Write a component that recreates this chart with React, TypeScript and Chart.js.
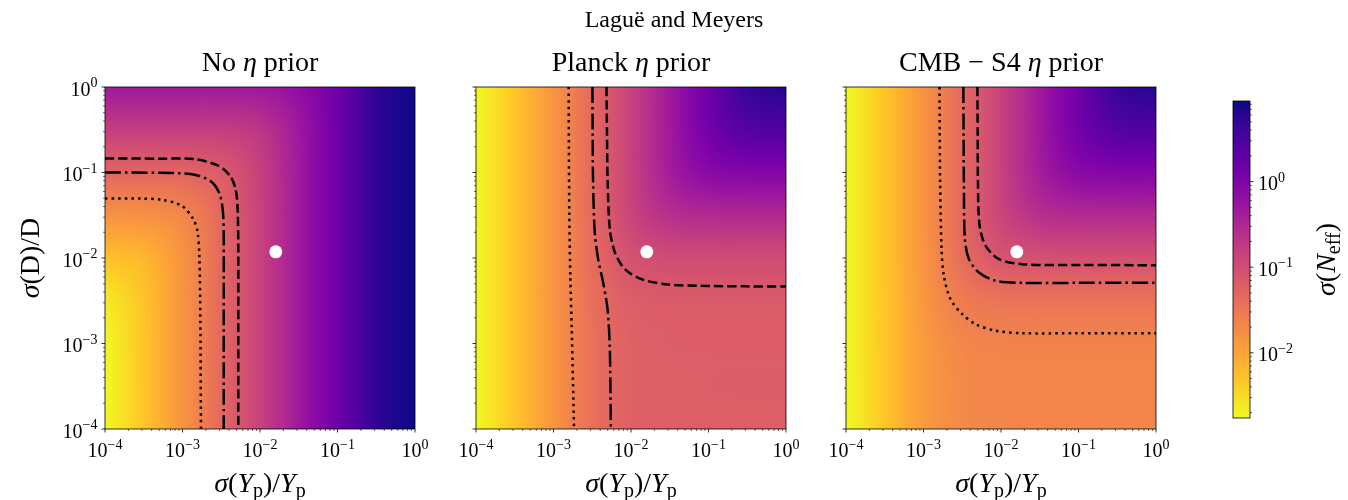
import React, { useEffect, useRef } from "react";
import { Chart, registerables } from "chart.js";

Chart.register(...registerables);

// ---------------- data ----------------
// grid nodes (half decades) of sigma(N_eff) maps; rows follow GRID_Y, columns follow GRID_X
const GRID_X = [1e-4, 3.162e-4, 1e-3, 3.162e-3, 1e-2, 3.162e-2, 1e-1, 3.162e-1, 1];
const GRID_Y = [1e-4, 3.162e-4, 1e-3, 3.162e-3, 1e-2, 3.162e-2, 1e-1, 3.162e-1, 1];

const SIGMA_NO_PRIOR = [
  [1.73e-3, 4.9e-3, 0.0148, 0.046, 0.145, 0.46, 1.45, 5.0, 8.74],
  [1.74e-3, 4.9e-3, 0.0148, 0.046, 0.145, 0.46, 1.45, 5.0, 8.74],
  [1.8e-3, 4.93e-3, 0.0148, 0.046, 0.145, 0.46, 1.45, 5.0, 8.74],
  [2.34e-3, 5.15e-3, 0.0149, 0.046, 0.145, 0.46, 1.45, 5.0, 8.74],
  [5.29e-3, 7.0e-3, 0.0156, 0.0463, 0.145, 0.46, 1.45, 5.0, 8.74],
  [0.0159, 0.0165, 0.0216, 0.0486, 0.146, 0.4603, 1.45, 5.0, 8.74],
  [0.05, 0.0502, 0.0521, 0.0679, 0.153, 0.4627, 1.451, 5.0, 8.74],
  [0.158, 0.158, 0.1587, 0.1646, 0.2145, 0.4864, 1.459, 5.002, 8.74],
  [0.47, 0.47, 0.47, 0.4723, 0.4919, 0.6577, 1.524, 5.022, 8.75],
];

const SIGMA_PLANCK = [
  [1.73e-3, 4.89e-3, 0.0144, 0.0372, 0.0578, 0.0624, 0.0629, 0.063, 0.063],
  [1.73e-3, 4.89e-3, 0.0144, 0.0372, 0.0578, 0.0624, 0.063, 0.0631, 0.0631],
  [1.73e-3, 4.89e-3, 0.0144, 0.0373, 0.0582, 0.0629, 0.0635, 0.0636, 0.0636],
  [1.73e-3, 4.89e-3, 0.0145, 0.0383, 0.0624, 0.0683, 0.069, 0.0691, 0.0691],
  [1.73e-3, 4.9e-3, 0.0147, 0.0424, 0.0876, 0.1068, 0.1096, 0.1099, 0.1099],
  [1.73e-3, 4.9e-3, 0.0148, 0.0454, 0.1298, 0.2462, 0.2855, 0.2909, 0.2913],
  [1.73e-3, 4.9e-3, 0.0148, 0.0459, 0.1432, 0.4098, 0.766, 0.888, 0.897],
  [1.73e-3, 4.9e-3, 0.0148, 0.046, 0.1448, 0.4541, 1.292, 2.474, 2.706],
  [1.73e-3, 4.9e-3, 0.0148, 0.046, 0.145, 0.4594, 1.432, 4.37, 6.27],
];

const SIGMA_CMBS4 = [
  [1.72e-3, 4.78e-3, 0.0122, 0.0195, 0.0213, 0.0215, 0.0215, 0.0215, 0.0215],
  [1.72e-3, 4.78e-3, 0.0122, 0.0196, 0.0215, 0.0217, 0.0217, 0.0217, 0.0217],
  [1.73e-3, 4.8e-3, 0.0125, 0.0208, 0.023, 0.0233, 0.0233, 0.0233, 0.0233],
  [1.73e-3, 4.86e-3, 0.0137, 0.0282, 0.0347, 0.0356, 0.0357, 0.0357, 0.0357],
  [1.73e-3, 4.89e-3, 0.0146, 0.0412, 0.078, 0.0907, 0.0924, 0.0925, 0.0925],
  [1.73e-3, 4.9e-3, 0.0148, 0.0454, 0.1293, 0.2425, 0.2799, 0.2849, 0.2853],
  [1.73e-3, 4.9e-3, 0.0148, 0.0459, 0.1431, 0.4096, 0.765, 0.887, 0.8955],
  [1.73e-3, 4.9e-3, 0.0148, 0.046, 0.1448, 0.4541, 1.291, 2.473, 2.705],
  [1.73e-3, 4.9e-3, 0.0148, 0.046, 0.145, 0.4594, 1.432, 4.37, 6.27],
];

// contour lines [x, y]
const NO_PRIOR_DOTTED = [[1e-4, 0.0497], [3e-4, 0.0495], [5.4e-4, 0.048], [9.8e-4, 0.0408], [1.38e-3, 0.0284], [1.57e-3, 0.0199], [1.65e-3, 0.0106], [1.7e-3, 2e-3], [1.73e-3, 1e-4]];
const NO_PRIOR_DASHDOT = [[1e-4, 0.1], [5e-4, 0.099], [1.31e-3, 0.0955], [2.27e-3, 0.08], [2.96e-3, 0.0583], [3.3e-3, 0.0372], [3.4e-3, 0.0182], [3.4e-3, 2e-3], [3.4e-3, 1e-4]];
const NO_PRIOR_DASHED = [[1e-4, 0.146], [5e-4, 0.145], [1.45e-3, 0.143], [2.9e-3, 0.12], [4.1e-3, 0.0914], [4.85e-3, 0.0638], [5.14e-3, 0.0372], [5.25e-3, 0.0127], [5.25e-3, 1.5e-3], [5.25e-3, 1e-4]];

const PLANCK_DOTTED = [[1.57e-3, 1], [1.58e-3, 0.2], [1.6e-3, 0.0311], [1.65e-3, 6e-3], [1.72e-3, 1.5e-3], [1.84e-3, 1e-4]];
const PLANCK_DASHDOT = [[3.18e-3, 1], [3.2e-3, 0.3], [3.24e-3, 0.0764], [3.41e-3, 0.0199], [3.77e-3, 9.7e-3], [4.37e-3, 5.17e-3], [4.98e-3, 2.52e-3], [5.33e-3, 8.6e-4], [5.5e-3, 1e-4]];
const PLANCK_DASHED = [[4.83e-3, 1], [4.9e-3, 0.3], [5.0e-3, 0.0764], [5.33e-3, 0.0217], [6.2e-3, 0.0116], [8.34e-3, 7.4e-3], [1.37e-2, 5.65e-3], [2.75e-2, 4.94e-3], [0.074, 4.73e-3], [0.3, 4.66e-3], [1, 4.64e-3]];

const CMBS4_DOTTED = [[1.61e-3, 1], [1.62e-3, 0.3], [1.64e-3, 0.0764], [1.71e-3, 0.0127], [1.83e-3, 6.19e-3], [2.23e-3, 3.3e-3], [3.17e-3, 2.2e-3], [4.71e-3, 1.68e-3], [8.53e-3, 1.41e-3], [1.89e-2, 1.32e-3], [0.1, 1.32e-3], [1, 1.32e-3]];
const CMBS4_DASHDOT = [[3.27e-3, 1], [3.29e-3, 0.3], [3.32e-3, 0.0764], [3.42e-3, 0.0166], [3.86e-3, 9.7e-3], [5.19e-3, 6.77e-3], [8.53e-3, 5.41e-3], [1.89e-2, 5.12e-3], [0.1, 5.12e-3], [1, 5.12e-3]];
const CMBS4_DASHED = [[4.96e-3, 1], [5.0e-3, 0.3], [5.04e-3, 0.0764], [5.3e-3, 0.0238], [6.34e-3, 0.0139], [9.42e-3, 9.7e-3], [1.89e-2, 8.46e-3], [0.1, 8.3e-3], [1, 8.24e-3]];

const FIDUCIAL = [{ x: 0.016, y: 0.0118 }];

const AXIS_MIN = 1e-4;
const AXIS_MAX = 1;
const AXIS_TICKS = [1e-4, 1e-3, 1e-2, 1e-1, 1];
const CB_MIN = 1.73e-3;
const CB_MAX = 8.74;
const CB_TICKS = [1e-2, 1e-1, 1];

const FIG_TITLE = "Laguë and Meyers";
const PANEL_TITLES = [
  ["No ", "η", " prior"],
  ["Planck ", "η", " prior"],
  ["CMB − S4 ", "η", " prior"],
];

// ---------------- styling / layout ----------------
const FIG_W = 1348;
const FIG_H = 500;
const PANEL_LEFT = [105, 476, 846];
const PANEL_W = 310;
const PANEL_TOP = 87;
const PANEL_BOTTOM = 429;
const CB_LEFT = 1233;
const CB_RIGHT = 1250;
const CB_TOP = 101;
const CB_BOTTOM = 418;
const SERIF = '"Liberation Serif", "Times New Roman", serif';

const PLASMA = [
  "#0d0887", "#2a0593", "#41049d", "#5601a4", "#6a00a8", "#7e03a8", "#8f0da4",
  "#a11b9b", "#b12a90", "#bf3984", "#cc4778", "#d6556d", "#e16462", "#ea7457",
  "#f2844b", "#f89540", "#fca636", "#feba2c", "#fcce25", "#f7e425", "#f0f921",
];
const PLASMA_RGB = PLASMA.map((h) => [
  parseInt(h.slice(1, 3), 16),
  parseInt(h.slice(3, 5), 16),
  parseInt(h.slice(5, 7), 16),
]);

function plasma(s: number): number[] {
  const c = Math.max(0, Math.min(1, s));
  const p = c * (PLASMA_RGB.length - 1);
  const i = Math.min(PLASMA_RGB.length - 2, Math.floor(p));
  const f = p - i;
  const a = PLASMA_RGB[i];
  const b = PLASMA_RGB[i + 1];
  return [a[0] + (b[0] - a[0]) * f, a[1] + (b[1] - a[1]) * f, a[2] + (b[2] - a[2]) * f];
}

const LMIN = Math.log10(CB_MIN);
const LMAX = Math.log10(CB_MAX);
function sigmaColor(logv: number): number[] {
  const t = (logv - LMIN) / (LMAX - LMIN);
  return plasma(1 - t); // plasma_r
}

function catmull(p0: number, p1: number, p2: number, p3: number, f: number) {
  return 0.5 * (2 * p1 + (-p0 + p2) * f + (2 * p0 - 5 * p1 + 4 * p2 - p3) * f * f + (-p0 + 3 * p1 - 3 * p2 + p3) * f * f * f);
}
function sample(arr: number[], u: number) {
  const n = arr.length;
  let i = Math.floor(u);
  if (i < 0) i = 0;
  if (i > n - 2) i = n - 2;
  const f = u - i;
  const g = (k: number) => (k < 0 ? 2 * arr[0] - arr[1] : k >= n ? 2 * arr[n - 1] - arr[n - 2] : arr[k]);
  return catmull(g(i - 1), g(i), g(i + 1), g(i + 2), f);
}

function font(size: number, italic?: boolean) {
  return `${italic ? "italic " : ""}${size}px ${SERIF}`;
}
type Seg = { t: string; size: number; it?: boolean; dy?: number };
function segWidth(ctx: CanvasRenderingContext2D, segs: Seg[]) {
  let w = 0;
  for (const s of segs) {
    ctx.font = font(s.size, s.it);
    w += ctx.measureText(s.t).width;
  }
  return w;
}
function drawSegs(ctx: CanvasRenderingContext2D, segs: Seg[], x: number, y: number, align: "left" | "center" | "right") {
  const w = segWidth(ctx, segs);
  let cx = align === "center" ? x - w / 2 : align === "right" ? x - w : x;
  ctx.textAlign = "left";
  ctx.textBaseline = "alphabetic";
  ctx.fillStyle = "#000";
  for (const s of segs) {
    ctx.font = font(s.size, s.it);
    ctx.fillText(s.t, cx, y + (s.dy || 0));
    cx += ctx.measureText(s.t).width;
  }
}
function powSegs(v: number): Seg[] {
  const e = Math.round(Math.log10(v));
  return [
    { t: "10", size: 20 },
    { t: e < 0 ? "−" + Math.abs(e) : String(e), size: 14, dy: -8.5 },
  ];
}
const X_LABEL: Seg[] = [
  { t: "σ", size: 28, it: true },
  { t: "(", size: 28 },
  { t: "Y", size: 28, it: true },
  { t: "p", size: 20, dy: 5 },
  { t: ")/", size: 28 },
  { t: "Y", size: 28, it: true },
  { t: "p", size: 20, dy: 5 },
];
const Y_LABEL: Seg[] = [
  { t: "σ", size: 28, it: true },
  { t: "(D)/D", size: 28 },
];
const CB_LABEL: Seg[] = [
  { t: "σ", size: 28, it: true },
  { t: "(", size: 28 },
  { t: "N", size: 28, it: true },
  { t: "eff", size: 20, dy: 5 },
  { t: ")", size: 28 },
];

function line(ctx: CanvasRenderingContext2D, x1: number, y1: number, x2: number, y2: number, w: number) {
  ctx.lineWidth = w;
  ctx.beginPath();
  ctx.moveTo(x1, y1);
  ctx.lineTo(x2, y2);
  ctx.stroke();
}

function heatmapPlugin(grid: number[][]) {
  return {
    id: "heatmap",
    beforeDatasetsDraw(chart: any) {
      const { ctx, chartArea: a, scales } = chart;
      const xs = scales.x;
      const ys = scales.y;
      const W = Math.round(a.right - a.left);
      const H = Math.round(a.bottom - a.top);
      const lgx = GRID_X.map((v) => Math.log10(v));
      const lgy = GRID_Y.map((v) => Math.log10(v));
      const stepX = (lgx[lgx.length - 1] - lgx[0]) / (lgx.length - 1);
      const stepY = (lgy[lgy.length - 1] - lgy[0]) / (lgy.length - 1);
      const lv = grid.map((r) => r.map((v) => Math.log10(v)));
      const rowAt: number[][] = lv.map(() => new Array(W));
      for (let i = 0; i < W; i++) {
        const u = (Math.log10(xs.getValueForPixel(a.left + i + 0.5)) - lgx[0]) / stepX;
        for (let r = 0; r < lv.length; r++) rowAt[r][i] = sample(lv[r], u);
      }
      const off = document.createElement("canvas");
      off.width = W;
      off.height = H;
      const octx = off.getContext("2d")!;
      const img = octx.createImageData(W, H);
      const col = new Array(lv.length);
      for (let j = 0; j < H; j++) {
        const u = (Math.log10(ys.getValueForPixel(a.top + j + 0.5)) - lgy[0]) / stepY;
        for (let i = 0; i < W; i++) {
          for (let r = 0; r < lv.length; r++) col[r] = rowAt[r][i];
          const c = sigmaColor(sample(col, u));
          const k = (j * W + i) * 4;
          img.data[k] = c[0];
          img.data[k + 1] = c[1];
          img.data[k + 2] = c[2];
          img.data[k + 3] = 255;
        }
      }
      octx.putImageData(img, 0, 0);
      ctx.drawImage(off, a.left, a.top);
    },
  };
}

function axesPlugin(idx: number) {
  return {
    id: "axesDecor",
    afterDatasetsDraw(chart: any) {
      const { ctx, chartArea: a, scales } = chart;
      const xs = scales.x;
      const ys = scales.y;
      ctx.save();
      ctx.strokeStyle = "#000";
      ctx.lineWidth = 0.8;
      ctx.strokeRect(a.left, a.top, a.right - a.left, a.bottom - a.top);
      for (let d = -4; d <= 0; d++) {
        const m = Math.pow(10, d);
        const px = xs.getPixelForValue(m);
        const py = ys.getPixelForValue(m);
        line(ctx, px, a.bottom, px, a.bottom + 3.5, 0.8);
        line(ctx, a.left, py, a.left - 3.5, py, 0.8);
        if (d < 0) {
          for (let k = 2; k <= 9; k++) {
            const qx = xs.getPixelForValue(k * m);
            const qy = ys.getPixelForValue(k * m);
            line(ctx, qx, a.bottom, qx, a.bottom + 2, 0.6);
            line(ctx, a.left, qy, a.left - 2, qy, 0.6);
          }
        }
      }
      for (const v of AXIS_TICKS) {
        drawSegs(ctx, powSegs(v), xs.getPixelForValue(v), a.bottom + 28, "center");
        if (idx === 0) drawSegs(ctx, powSegs(v), a.left - 7.5, ys.getPixelForValue(v) + 8.5, "right");
      }
      const cx = (a.left + a.right) / 2;
      drawSegs(ctx, X_LABEL, cx, 492, "center");
      const tt = PANEL_TITLES[idx];
      drawSegs(ctx, [{ t: tt[0], size: 28 }, { t: tt[1], size: 28, it: true }, { t: tt[2], size: 28 }], cx, 71, "center");
      if (idx === 0) {
        ctx.save();
        ctx.translate(39, (a.top + a.bottom) / 2);
        ctx.rotate(-Math.PI / 2);
        drawSegs(ctx, Y_LABEL, 0, 0, "center");
        ctx.restore();
      }
      ctx.restore();
    },
  };
}

const colorbarPlugin = {
  id: "colorbar",
  afterDraw(chart: any) {
    const { ctx, chartArea: a, scales } = chart;
    const ys = scales.y;
    ctx.save();
    for (let y = Math.floor(a.top); y < a.bottom; y++) {
      const v = ys.getValueForPixel(y + 0.5);
      const c = sigmaColor(Math.log10(v));
      ctx.fillStyle = `rgb(${Math.round(c[0])},${Math.round(c[1])},${Math.round(c[2])})`;
      ctx.fillRect(a.left, y, a.right - a.left, 1);
    }
    ctx.strokeStyle = "#000";
    ctx.lineWidth = 0.8;
    ctx.strokeRect(a.left, a.top, a.right - a.left, a.bottom - a.top);
    for (let d = -3; d <= 0; d++) {
      const m = Math.pow(10, d);
      for (let k = 1; k <= 9; k++) {
        const v = k * m;
        if (v < CB_MIN || v > CB_MAX) continue;
        const py = ys.getPixelForValue(v);
        if (k === 1) line(ctx, a.right, py, a.right + 3.5, py, 0.8);
        else line(ctx, a.right, py, a.right + 2, py, 0.6);
      }
    }
    for (const v of CB_TICKS) drawSegs(ctx, powSegs(v), a.right + 8, ys.getPixelForValue(v) + 8.5, "left");
    ctx.save();
    ctx.translate(1335, (a.top + a.bottom) / 2);
    ctx.rotate(-Math.PI / 2);
    drawSegs(ctx, CB_LABEL, 0, 0, "center");
    ctx.restore();
    drawSegs(ctx, [{ t: FIG_TITLE, size: 24 }], FIG_W / 2, 27, "center");
    ctx.restore();
  },
};

const PANELS = [
  { grid: SIGMA_NO_PRIOR, dotted: NO_PRIOR_DOTTED, dashdot: NO_PRIOR_DASHDOT, dashed: NO_PRIOR_DASHED },
  { grid: SIGMA_PLANCK, dotted: PLANCK_DOTTED, dashdot: PLANCK_DASHDOT, dashed: PLANCK_DASHED },
  { grid: SIGMA_CMBS4, dotted: CMBS4_DOTTED, dashdot: CMBS4_DASHDOT, dashed: CMBS4_DASHED },
];

function contourDataset(pts: number[][], dash: number[]) {
  return {
    data: pts.map((p) => ({ x: p[0], y: p[1] })),
    showLine: true,
    borderColor: "#000",
    borderWidth: 2.5,
    borderDash: dash,
    pointRadius: 0,
    tension: 0.3,
    fill: false,
    clip: 0,
  };
}

function makePanel(canvas: HTMLCanvasElement, idx: number) {
  const p = PANELS[idx];
  const left = PANEL_LEFT[idx];
  return new Chart(canvas, {
    type: "scatter",
    data: {
      datasets: [
        { data: FIDUCIAL, pointRadius: 6.5, pointBackgroundColor: "#fff", backgroundColor: "#fff", pointBorderWidth: 0, borderWidth: 0, showLine: false, clip: false },
        contourDataset(p.dashed, [9.25, 4]),
        contourDataset(p.dashdot, [16, 4, 2.5, 4]),
        contourDataset(p.dotted, [2.5, 4.1]),
      ] as any,
    },
    options: {
      responsive: false,
      animation: false,
      devicePixelRatio: 1,
      events: [],
      layout: { padding: { left, top: PANEL_TOP, right: FIG_W - left - PANEL_W, bottom: FIG_H - PANEL_BOTTOM } },
      plugins: { legend: { display: false }, tooltip: { enabled: false }, title: { display: false } },
      scales: {
        x: { type: "logarithmic", min: AXIS_MIN, max: AXIS_MAX, display: false },
        y: { type: "logarithmic", min: AXIS_MIN, max: AXIS_MAX, display: false },
      },
    } as any,
    plugins: [heatmapPlugin(p.grid), axesPlugin(idx)],
  });
}

function makeColorbar(canvas: HTMLCanvasElement) {
  return new Chart(canvas, {
    type: "scatter",
    data: { datasets: [] },
    options: {
      responsive: false,
      animation: false,
      devicePixelRatio: 1,
      events: [],
      layout: { padding: { left: CB_LEFT, top: CB_TOP, right: FIG_W - CB_RIGHT, bottom: FIG_H - CB_BOTTOM } },
      plugins: { legend: { display: false }, tooltip: { enabled: false } },
      scales: {
        x: { type: "linear", min: 0, max: 1, display: false },
        y: { type: "logarithmic", min: CB_MIN, max: CB_MAX, display: false },
      },
    } as any,
    plugins: [colorbarPlugin],
  });
}

export default function App() {
  const r0 = useRef<HTMLCanvasElement>(null);
  const r1 = useRef<HTMLCanvasElement>(null);
  const r2 = useRef<HTMLCanvasElement>(null);
  const rc = useRef<HTMLCanvasElement>(null);
  useEffect(() => {
    const charts = [
      makePanel(r0.current!, 0),
      makePanel(r1.current!, 1),
      makePanel(r2.current!, 2),
      makeColorbar(rc.current!),
    ];
    return () => charts.forEach((c) => c.destroy());
  }, []);
  const cs: React.CSSProperties = { position: "absolute", left: 0, top: 0, width: FIG_W, height: FIG_H };
  return (
    <div style={{ position: "fixed", left: 0, top: 0, width: FIG_W, height: FIG_H, background: "#fff" }}>
      <canvas ref={r0} width={FIG_W} height={FIG_H} style={cs} />
      <canvas ref={r1} width={FIG_W} height={FIG_H} style={cs} />
      <canvas ref={r2} width={FIG_W} height={FIG_H} style={cs} />
      <canvas ref={rc} width={FIG_W} height={FIG_H} style={cs} />
    </div>
  );
}
